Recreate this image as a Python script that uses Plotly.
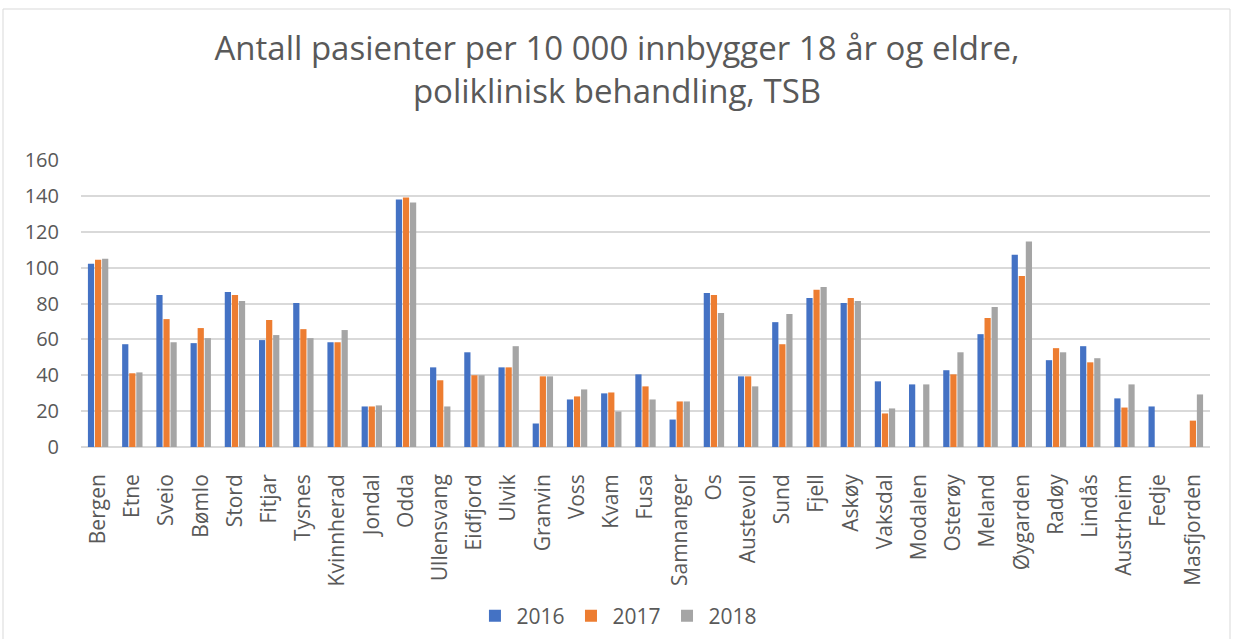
import plotly.graph_objects as go

categories = ["Bergen", "Etne", "Sveio", "Bømlo", "Stord", "Fitjar", "Tysnes", "Kvinnherad",
              "Jondal", "Odda", "Ullensvang", "Eidfjord", "Ulvik", "Granvin", "Voss", "Kvam",
              "Fusa", "Samnanger", "Os", "Austevoll", "Sund", "Fjell", "Askøy", "Vaksdal",
              "Modalen", "Osterøy", "Meland", "Øygarden", "Radøy", "Lindås", "Austrheim",
              "Fedje", "Masfjorden"]

v2016 = [102.1, 57.3, 84.8, 57.9, 86.4, 59.6, 80.3, 58.4,
         22.6, 138.0, 44.4, 52.8, 44.4, 13.1, 26.5, 29.9,
         40.5, 15.3, 85.9, 39.4, 69.6, 83.1, 80.3, 36.6,
         34.9, 42.8, 62.9, 107.2, 48.4, 56.2, 27.1,
         22.6, None]
v2017 = [104.4, 41.1, 71.3, 66.3, 84.8, 70.8, 65.7, 58.4,
         22.6, 139.1, 37.2, 40.0, 44.4, 39.4, 28.2, 30.4,
         33.8, 25.4, 84.8, 39.4, 57.3, 87.6, 83.1, 18.7,
         None, 40.5, 71.9, 95.4, 55.1, 47.2, 22.0,
         None, 14.7]
v2018 = [104.9, 41.6, 58.4, 60.7, 81.4, 62.4, 60.7, 65.2,
         23.2, 136.3, 22.6, 40.0, 56.2, 39.4, 32.1, 19.8,
         26.5, 25.4, 74.7, 33.8, 74.1, 89.2, 81.4, 21.5,
         34.9, 52.8, 78.0, 114.5, 52.8, 49.5, 34.9,
         None, 29.3]

series_names = ["2016", "2017", "2018"]
series_colors = ["#4472C4", "#ED7D31", "#A5A5A5"]
y_ticks = [0, 20, 40, 60, 80, 100, 120, 140, 160]

title_text = "Antall pasienter per 10 000 innbygger 18 år og eldre,<br>poliklinisk behandling, TSB"

FONT = "Open Sans"
TXT = "#595959"

fig = go.Figure()
for name, vals, col in zip(series_names, [v2016, v2017, v2018], series_colors):
    fig.add_trace(go.Bar(x=categories, y=vals, name=name, marker_color=col,
                         marker_line_width=0))

W, H = 1234, 639
ml, mr, mt, mb = 81, 24, 160, 192
pw = W - ml - mr
ph = H - mt - mb

fig.update_layout(
    width=W, height=H, autosize=False,
    margin=dict(l=ml, r=mr, t=mt, b=mb, autoexpand=False),
    paper_bgcolor="white", plot_bgcolor="white",
    barmode="group", bargap=0.38, bargroupgap=0.12,
    font=dict(family=FONT, color=TXT, size=20),
    title=dict(text=title_text, x=0.5, xanchor="center", y=1 - 60 / H, yanchor="middle",
               font=dict(family=FONT, size=33, color=TXT)),
    legend=dict(orientation="h", x=0.4756, xanchor="center", y=(0 - (616 - (H - mb))) / ph,
                yanchor="middle", font=dict(size=21, color=TXT), itemwidth=33,
                traceorder="normal"),
    xaxis=dict(tickangle=-90, showgrid=False, showline=False, ticks="", automargin=False,
               tickfont=dict(size=21, color=TXT), ticklabelstandoff=22),
    yaxis=dict(range=[0, 160], tickvals=y_ticks, showgrid=True, gridcolor="#D9D9D9",
               gridwidth=1.5, zeroline=True, zerolinecolor="#D9D9D9", zerolinewidth=1.5,
               automargin=False,
               tickfont=dict(size=20, color=TXT), ticks="", ticklabelstandoff=21),
    shapes=[dict(type="rect", xref="paper", yref="paper",
                 x0=(3 - ml) / pw, x1=(1230 - ml) / pw,
                 y0=-(H + 10 - (H - mb)) / ph, y1=((H - mb) - 9) / ph,
                 line=dict(color="#D9D9D9", width=1), fillcolor="rgba(0,0,0,0)",
                 layer="below")],
)

fig.write_html("out.html", config={"displayModeBar": False},
               post_script="document.body.style.margin='0px';")
